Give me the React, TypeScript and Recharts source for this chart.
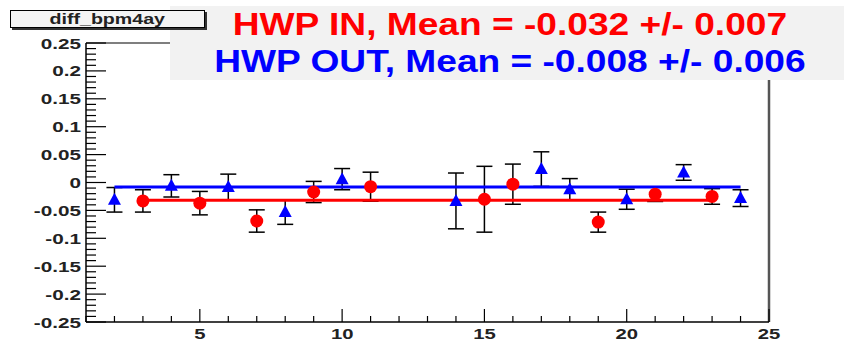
// diff_bpm4ay per-run averages, HWP IN vs HWP OUT, ROOT-style frame.
import { ComposedChart, Scatter, XAxis, YAxis, ErrorBar, ReferenceLine } from "recharts";

const inRuns = [3, 5, 7, 9, 11, 15, 16, 19, 21, 23];
const inValues = [-0.033, -0.037, -0.069, -0.017, -0.0075, -0.03, -0.003, -0.071, -0.021, -0.025];
const inErrors = [0.02, 0.021, 0.02, 0.019, 0.026, 0.059, 0.036, 0.018, 0.013, 0.014];

const outRuns = [2, 4, 6, 8, 10, 14, 17, 18, 20, 22, 24];
const outValues = [-0.031, -0.006, -0.008, -0.053, 0.006, -0.033, 0.024, -0.012, -0.03, 0.018, -0.028];
const outErrors = [0.022, 0.02, 0.023, 0.022, 0.019, 0.05, 0.031, 0.019, 0.018, 0.014, 0.015];

const meanIn = -0.032;
const meanOut = -0.008;

const xTicks = [1, 2, 3, 4, 5, 6, 7, 8, 9, 10, 11, 12, 13, 14, 15, 16, 17, 18, 19, 20, 21, 22, 23, 24, 25];
const xTickLabels = ["5", "10", "15", "20", "25"];
const yTickLabels = ["-0.25", "-0.2", "-0.15", "-0.1", "-0.05", "0", "0.05", "0.1", "0.15", "0.2", "0.25"];
const yTicks = Array.from({ length: 51 }, (_, i) => (i - 25) / 100);

const RED = "#ff0000";
const BLUE = "#0000ff";
const FONT = "'Liberation Sans', Arial, sans-serif";

const inData = inRuns.map((x, i) => ({ x, y: inValues[i], err: inErrors[i] }));
const outData = outRuns.map((x, i) => ({ x, y: outValues[i], err: outErrors[i] }));
const inLine = [{ x: inRuns[0], y: meanIn }, { x: inRuns[inRuns.length - 1], y: meanIn }];
const outLine = [{ x: outRuns[0], y: meanOut }, { x: outRuns[outRuns.length - 1], y: meanOut }];

const XTick = ({ x, y, payload }: any) => {
  const v = payload.value as number;
  const major = v % 5 === 0;
  const label = major ? xTickLabels[v / 5 - 1] : null;
  return (
    <g>
      <line x1={x} x2={x} y1={y} y2={y - (major ? 13 : 6)} stroke="#000" strokeWidth={1.2} />
      {label && (
        <text
          transform={`translate(${x},${y + 17}) scale(1.35,1)`}
          textAnchor="middle"
          fontFamily={FONT}
          fontWeight="bold"
          fontSize={15}
          fill="#222"
        >
          {label}
        </text>
      )}
    </g>
  );
};

const YTick = ({ x, y, payload }: any) => {
  const k = Math.round((payload.value as number) * 100);
  const major = k % 5 === 0;
  const label = major ? yTickLabels[(k + 25) / 5] : null;
  return (
    <g>
      <line x1={x} x2={x + (major ? 20 : 10)} y1={y} y2={y} stroke="#000" strokeWidth={1.2} />
      {label && (
        <text
          transform={`translate(${x - 5},${y + 5.5}) scale(1.38,1)`}
          textAnchor="end"
          fontFamily={FONT}
          fontWeight="bold"
          fontSize={15}
          fill="#222"
        >
          {label}
        </text>
      )}
    </g>
  );
};

const Dot = ({ cx, cy }: any) => <circle cx={cx} cy={cy} r={6.5} fill={RED} />;
const Tri = ({ cx, cy }: any) => (
  <polygon points={`${cx},${cy - 7} ${cx - 6.5},${cy + 5} ${cx + 6.5},${cy + 5}`} fill={BLUE} />
);
const NoShape = () => <g />;

export default function App() {
  return (
    <div style={{ position: "relative", width: 844, height: 342, background: "#fff", overflow: "hidden" }}>
      <style>{"body{margin:0}"}</style>
      <ComposedChart width={844} height={342} margin={{ top: 43, right: 75, bottom: 0, left: 26 }}>
        <XAxis
          dataKey="x"
          type="number"
          domain={[1, 25]}
          ticks={xTicks}
          interval={0}
          tickSize={0}
          tickMargin={0}
          tickLine={false}
          height={20}
          axisLine={{ stroke: "#000", strokeWidth: 1.5 }}
          tick={<XTick />}
          allowDataOverflow
        />
        <YAxis
          dataKey="y"
          type="number"
          domain={[-0.25, 0.25]}
          ticks={yTicks}
          interval={0}
          tickSize={0}
          tickMargin={0}
          tickLine={false}
          width={60}
          axisLine={{ stroke: "#000", strokeWidth: 1.5 }}
          tick={<YTick />}
          allowDataOverflow
        />
        <ReferenceLine y={0.25} stroke="#000" strokeWidth={1.2} />
        <ReferenceLine x={25} stroke="#555" strokeWidth={2.5} />
        <Scatter data={inLine} line={{ stroke: RED, strokeWidth: 3 }} shape={<NoShape />} isAnimationActive={false} />
        <Scatter data={outLine} line={{ stroke: BLUE, strokeWidth: 3 }} shape={<NoShape />} isAnimationActive={false} />
        <Scatter data={inData} shape={<Dot />} isAnimationActive={false}>
          <ErrorBar dataKey="err" direction="y" width={8} stroke="#000" strokeWidth={1.5} isAnimationActive={false} />
        </Scatter>
        <Scatter data={outData} shape={<Tri />} isAnimationActive={false}>
          <ErrorBar dataKey="err" direction="y" width={8} stroke="#000" strokeWidth={1.5} isAnimationActive={false} />
        </Scatter>
      </ComposedChart>

      <div style={{ position: "absolute", left: 170, top: 6, width: 674, height: 74, background: "#f2f2f2" }} />
      <div
        style={{
          position: "absolute", left: 170, top: 6, width: 680, textAlign: "center",
          fontFamily: FONT, fontWeight: "bold", fontSize: 32, lineHeight: "37px",
        }}
      >
        <div style={{ color: RED }}>
          <span style={{ display: "inline-block", transform: "scaleX(1.16)" }}>HWP IN, Mean = -0.032 +/- 0.007</span>
        </div>
        <div style={{ color: BLUE }}>
          <span style={{ display: "inline-block", transform: "scaleX(1.16)" }}>HWP OUT, Mean = -0.008 +/- 0.006</span>
        </div>
      </div>

      <div
        style={{
          position: "absolute", left: 10, top: 10, width: 193, height: 16,
          border: "1px solid #000", boxShadow: "2px 2px 0 #333", background: "#f4f4f4",
          fontFamily: FONT, fontWeight: "bold", fontSize: 14, lineHeight: "16px",
          textAlign: "center", color: "#222",
        }}
      >
        <span style={{ display: "inline-block", transform: "scaleX(1.4)" }}>diff_bpm4ay</span>
      </div>
    </div>
  );
}
